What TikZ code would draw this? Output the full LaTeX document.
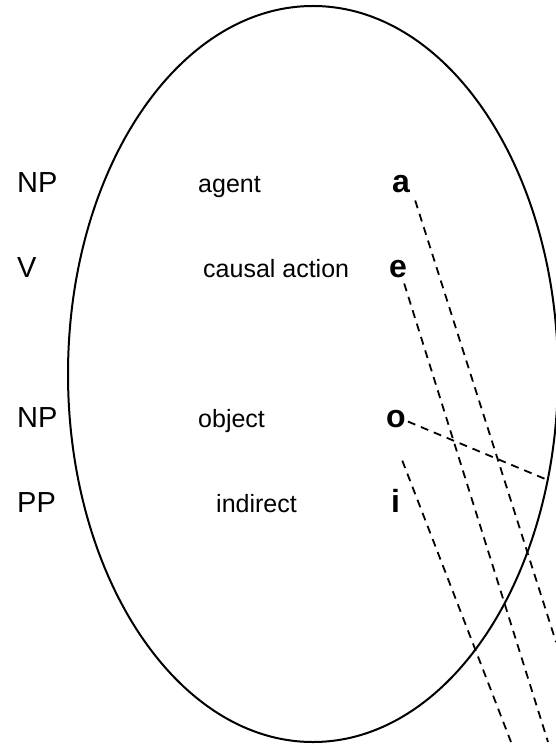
\documentclass[tikz,border=0pt]{standalone}
\usepackage{fontspec}
\setmainfont{Liberation Sans}
\usetikzlibrary{positioning}

\tikzset{
	cat/.style={anchor=base west, inner sep=0pt, font=\fontsize{29}{34}\selectfont},
	role/.style={anchor=base west, inner sep=0pt, font=\fontsize{25}{30}\selectfont},
	vowel/.style={anchor=base west, inner sep=0pt, font=\fontsize{32}{38}\selectfont\bfseries},
	link/.style={line width=1.8pt, dash pattern=on 8pt off 6pt},
}

\begin{document}
\begin{tikzpicture}[x=1pt, y=-1pt]
		\useasboundingbox (0,0) rectangle (555,746);
		\draw[line width=2pt] (313,374) ellipse [x radius=245, y radius=368];
		% categories
		\node[cat] (np1) at (17,192) {NP};
		\node[cat] (v) at (17,277) {V};
		\node[cat] (np2) at (17,427) {NP};
		\node[cat] (pp) at (17,512) {PP};
		% roles
		\node[role] (agent) at (198,192) {agent};
		\node[role] (action) at (203,277) {causal action};
		\node[role] (object) at (198,427) {object};
		\node[role] (indirect) at (216,512) {indirect};
		% letters
		\node[vowel] (la) at (392,192) {a};
		\node[vowel] (le) at (389,277) {e};
		\node[vowel] (lo) at (386,427) {o};
		\node[vowel] (li) at (391,512) {i};
		% free ends
		\coordinate (ea) at (556,642);
		\coordinate (ee) at (548,742);
		\coordinate (eo) at (550,481);
		\coordinate (ei) at (511,742);
		\draw[link] ([xshift=5pt,yshift=-8pt]la.south east) -- (ea);
		\draw[link] ([xshift=-3pt,yshift=-6pt]le.south east) -- (ee);
		\draw[link] ([xshift=2pt,yshift=-3pt]lo.east) -- (eo);
		\draw[link] ([xshift=2pt,yshift=28pt]li.north east) -- (ei);
	\end{tikzpicture}
\end{document}
